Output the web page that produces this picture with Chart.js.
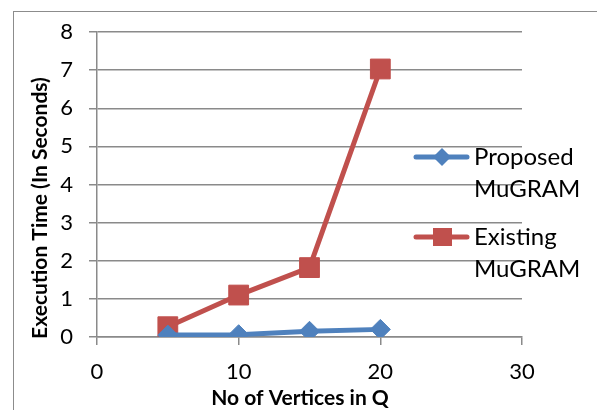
<!DOCTYPE html>
<html>
<head>
<meta charset="utf-8">
<script src="https://cdn.jsdelivr.net/npm/chart.js@4/dist/chart.umd.min.js"></script>
<style>
  body { margin: 0; background: #fff; }
  #wrap { position: relative; width: 597px; height: 410px; overflow: hidden; }
  #frame {
    position: absolute; left: 13px; top: 11px; width: 700px; height: 500px;
    border-left: 1.5px solid #8c8c8c; border-top: 1.5px solid #8c8c8c;
  }
  canvas { position: absolute; left: 0; top: 0; }
</style>
</head>
<body>
<div id="wrap">
  <div id="frame"></div>
  <canvas id="c" width="597" height="410"></canvas>
</div>
<script>
const vertices = [5, 10, 15, 20];
const proposed = [0.05, 0.06, 0.15, 0.2];
const existing = [0.27, 1.1, 1.82, 7.03];
const seriesNames = [["Proposed", "MuGRAM"], ["Existing", "MuGRAM"]];
const xTitle = "No of Vertices in Q";
const yTitle = "Execution Time (In Seconds)";

const BLUE = "#4f81bd";
const RED = "#c0504d";
const GRID = "#8a8a8a";
const FONT = "Lato, 'Open Sans', sans-serif";

function points(ys) {
  return vertices.map((x, i) => ({ x: x, y: ys[i] }));
}

// legend and axis titles drawn by hand, Excel style
const extras = {
  id: "extras",
  afterDraw(chart) {
    const ctx = chart.ctx;
    ctx.save();
    ctx.fillStyle = "#000";

    ctx.font = "bold 21px " + FONT;
    ctx.textAlign = "center";
    ctx.textBaseline = "alphabetic";
    ctx.fillText(xTitle, 300, 405);

    ctx.save();
    ctx.translate(47, 208);
    ctx.rotate(-Math.PI / 2);
    ctx.fillText(yTitle, 0, 0);
    ctx.restore();

    const rows = [157, 237];
    chart.data.datasets.forEach((ds, i) => {
      const y = rows[i];
      ctx.strokeStyle = ds.borderColor;
      ctx.lineWidth = 5;
      ctx.lineCap = "round";
      ctx.beginPath();
      ctx.moveTo(416, y);
      ctx.lineTo(467, y);
      ctx.stroke();
      ctx.fillStyle = ds.borderColor;
      if (ds.pointStyle === "rect") {
        ctx.fillRect(433, y - 9, 19, 18);
      } else {
        ctx.beginPath();
        ctx.moveTo(442, y - 9);
        ctx.lineTo(451, y);
        ctx.lineTo(442, y + 9);
        ctx.lineTo(433, y);
        ctx.closePath();
        ctx.fill();
      }
      ctx.fillStyle = "#000";
      ctx.font = "24px " + FONT;
      ctx.textAlign = "left";
      ctx.textBaseline = "middle";
      ctx.fillText(seriesNames[i][0], 474, y);
      ctx.fillText(seriesNames[i][1], 474, y + 32);
    });
    ctx.restore();
  }
};

new Chart(document.getElementById("c"), {
  type: "line",
  data: {
    datasets: [
      {
        label: seriesNames[0].join(" "),
        data: points(proposed),
        borderColor: BLUE,
        backgroundColor: BLUE,
        borderWidth: 5,
        pointStyle: "rectRot",
        pointRadius: 10,
        pointBorderWidth: 1,
        tension: 0
      },
      {
        label: seriesNames[1].join(" "),
        data: points(existing),
        borderColor: RED,
        backgroundColor: RED,
        borderWidth: 5,
        pointStyle: "rect",
        pointRadius: 14,
        pointBorderWidth: 1,
        tension: 0
      }
    ]
  },
  options: {
    responsive: false,
    animation: false,
    events: [],
    layout: { padding: { top: 32, right: 75, left: 0, bottom: 0 } },
    plugins: { legend: { display: false }, tooltip: { enabled: false } },
    scales: {
      x: {
        type: "linear",
        min: 0,
        max: 30,
        ticks: { stepSize: 10, color: "#000", font: { family: FONT, size: 22 }, padding: 14 },
        grid: { drawOnChartArea: false, drawTicks: true, tickLength: 8, color: GRID, lineWidth: 1.5 },
        border: { color: GRID, width: 1.5 },
        afterFit(scale) { scale.height = 73; }
      },
      y: {
        min: 0,
        max: 8,
        ticks: { stepSize: 1, color: "#000", font: { family: FONT, size: 22 }, padding: 16 },
        grid: { color: GRID, lineWidth: 1.5, tickLength: 8 },
        border: { color: GRID, width: 1.5 },
        afterFit(scale) { scale.width = 97; }
      }
    }
  },
  plugins: [extras]
});
</script>
</body>
</html>
